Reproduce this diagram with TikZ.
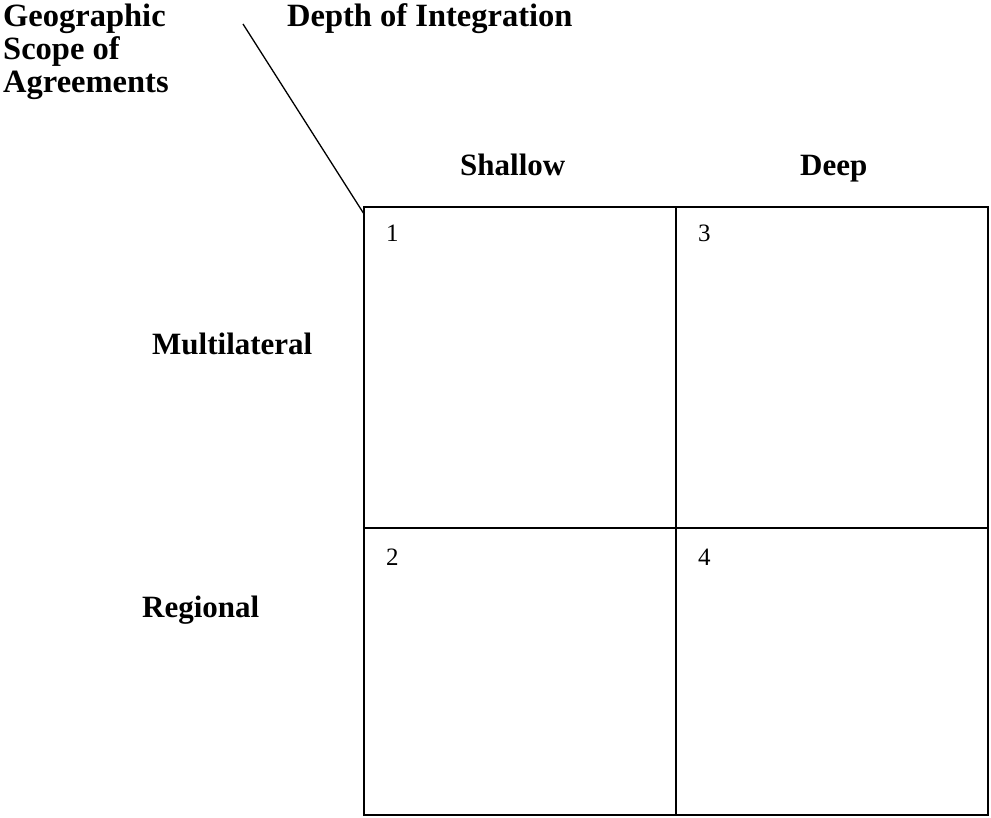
\documentclass[tikz,border=0pt]{standalone}
\usepackage{fontspec}
\setmainfont{Liberation Serif}
\begin{document}
\begin{tikzpicture}[x=1pt,y=-1pt,
  lbl/.style={font=\fontsize{31}{32}\selectfont\bfseries, anchor=base west, inner sep=0pt},
  toplbl/.style={font=\fontsize{32.5}{33}\selectfont\bfseries, anchor=base west, inner sep=0pt},
  num/.style={font=\fontsize{25}{28}\selectfont, anchor=base west, inner sep=0pt},
  cell/.style={draw, line width=1.7pt, rectangle, inner sep=0pt, outer sep=0pt, anchor=north west}]
\useasboundingbox (0,0) rectangle (991,818);
% cells
\node[cell, minimum width=312pt, minimum height=321pt] (c1) at (364,207) {};
\node[cell, minimum width=312pt, minimum height=321pt] (c3) at (676,207) {};
\node[cell, minimum width=312pt, minimum height=287pt] (c2) at (364,528) {};
\node[cell, minimum width=312pt, minimum height=287pt] (c4) at (676,528) {};
% numbers
\node[num] (n1) at (386,242) {1};
\node[num] (n3) at (698,242) {3};
\node[num] (n2) at (386,565) {2};
\node[num] (n4) at (698,565) {4};
% labels
\node[toplbl] (g1) at (3,27) {Geographic};
\node[toplbl] (g2) at (3,60) {Scope of};
\node[toplbl] (g3) at (3,93) {Agreements};
\node[toplbl] (depth) at (287,27) {Depth of Integration};
\node[lbl] (shallow) at (460,176) {Shallow};
\node[lbl] (deep) at (800,176) {Deep};
\node[lbl] (multi) at (152,355) {Multilateral};
\node[lbl] (reg) at (142,617) {Regional};
% diagonal
\coordinate (dstart) at (243,24);
\coordinate (dend) at ([yshift=-7pt]c1.north west);
\draw[line width=1.3pt] (dstart) -- (dend);
\end{tikzpicture}
\end{document}
